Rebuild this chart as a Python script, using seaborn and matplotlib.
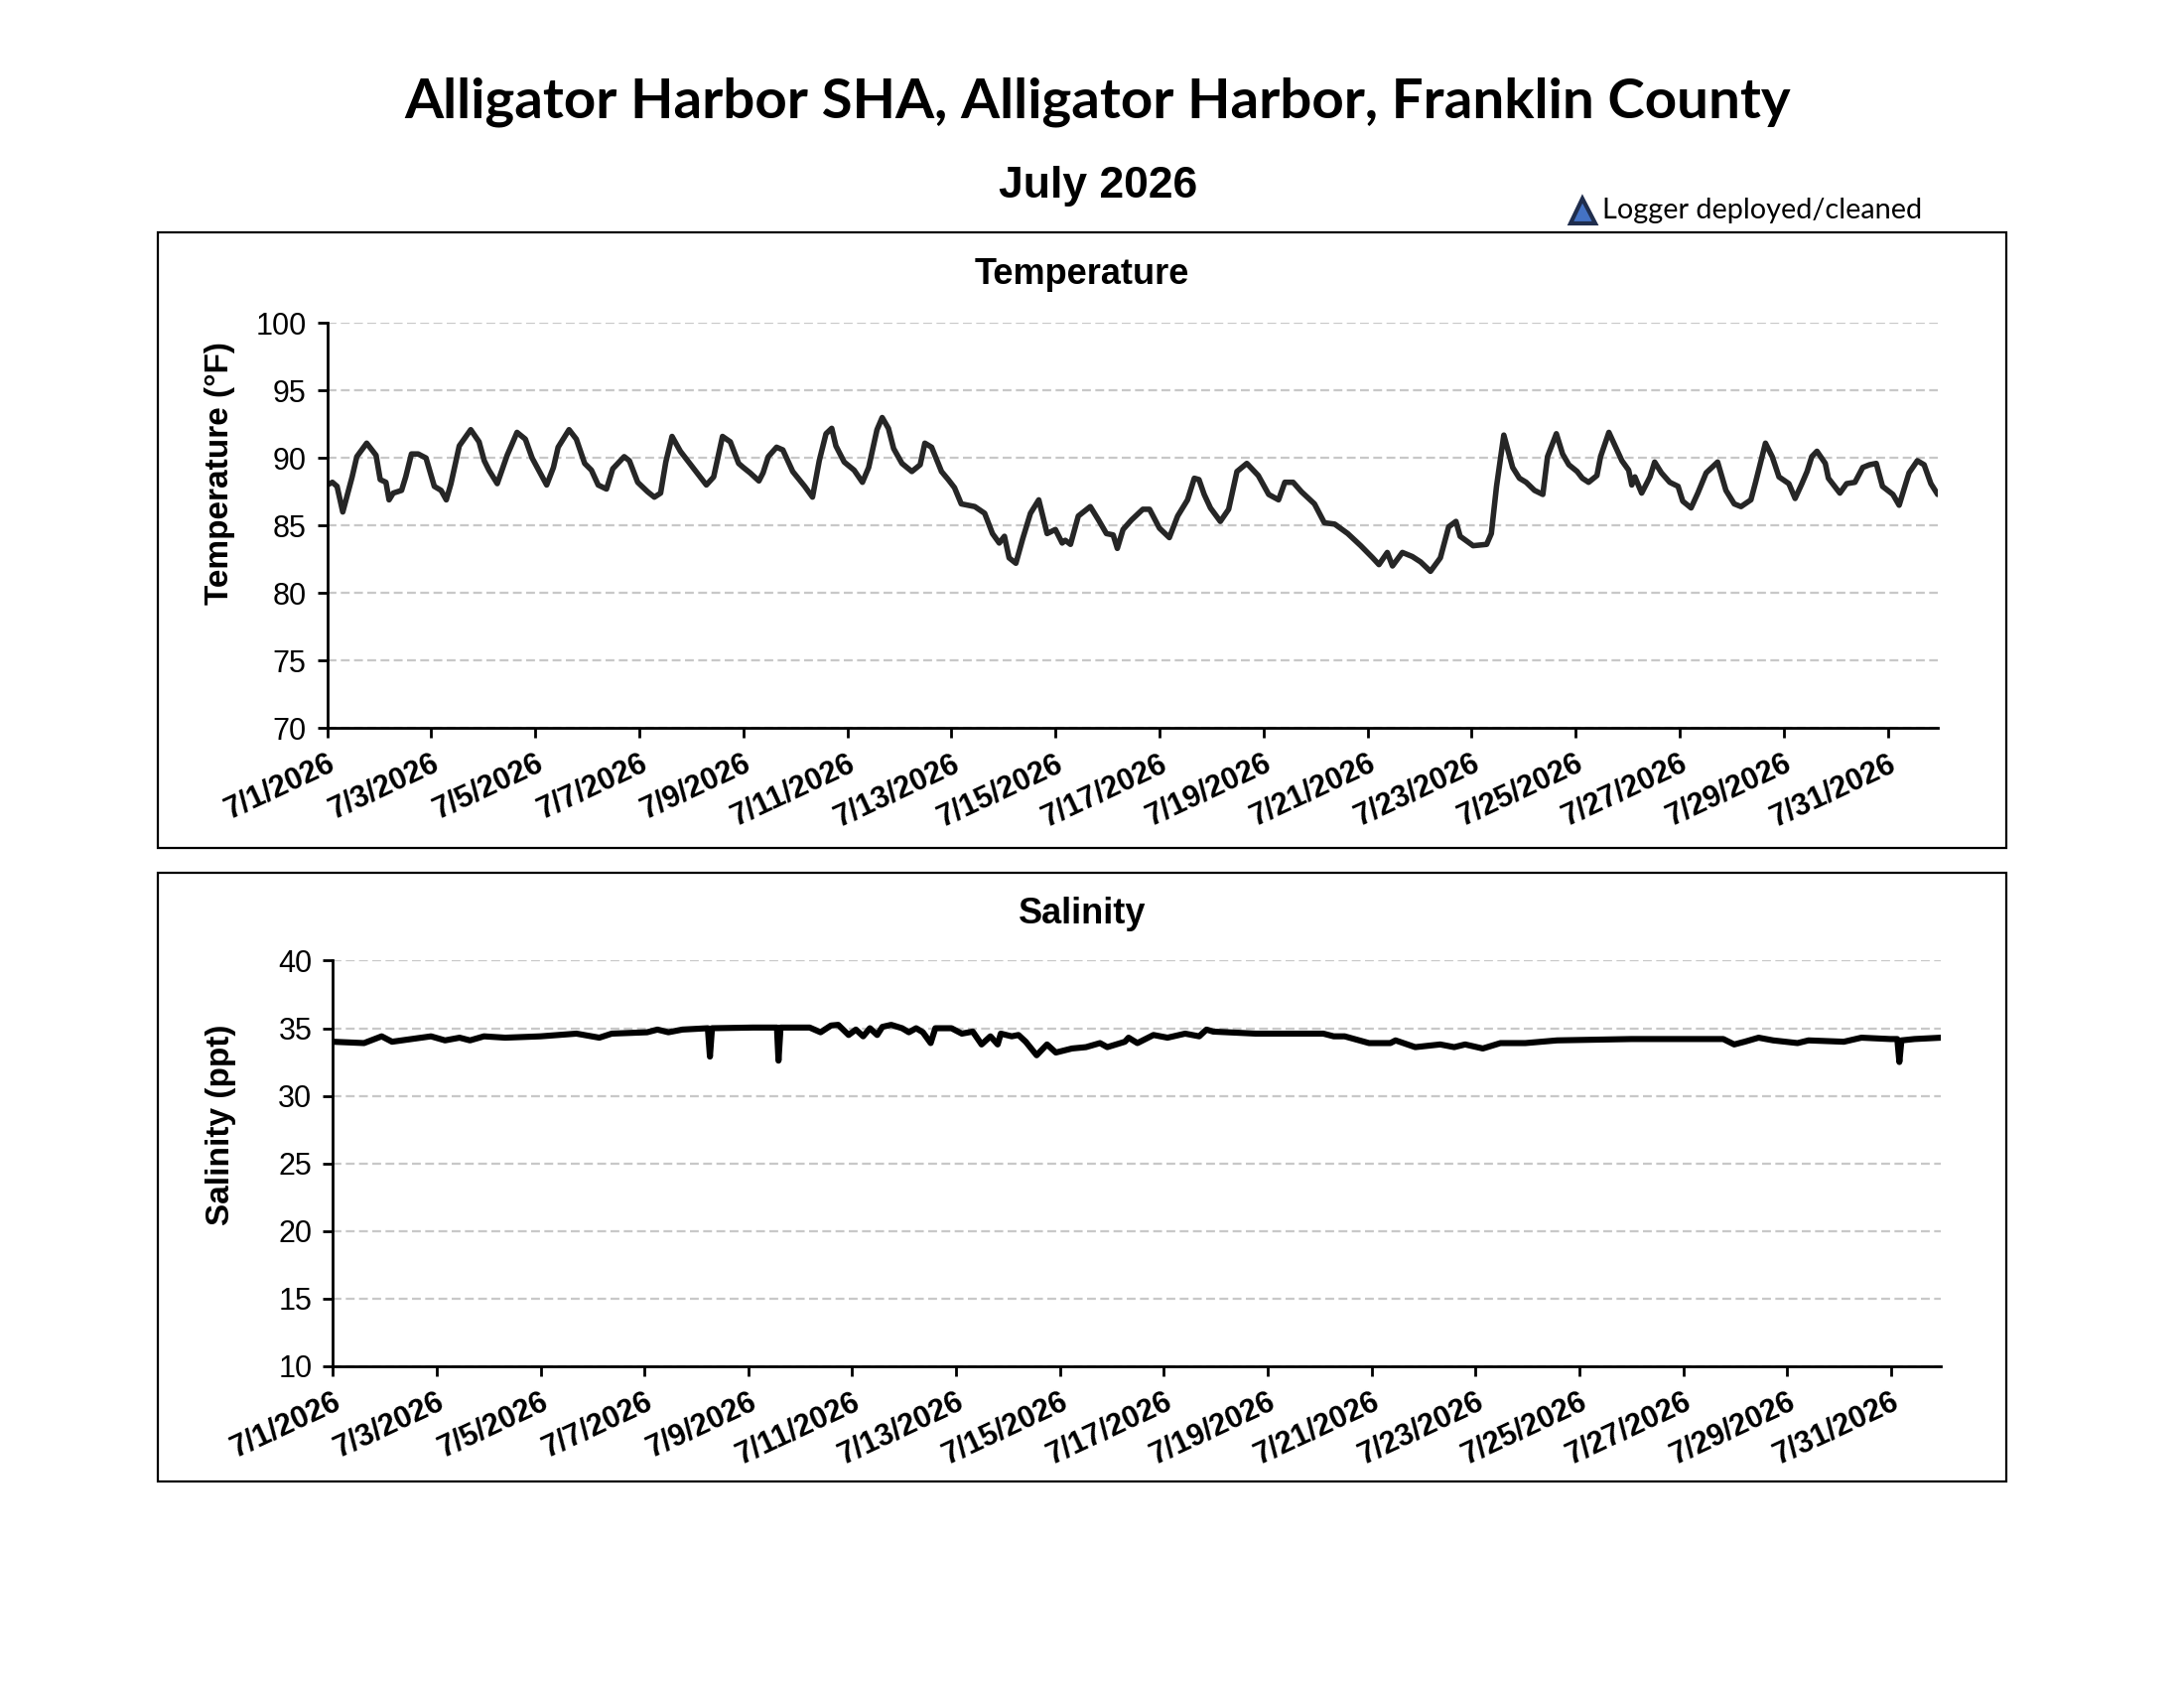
import pandas as pd
import matplotlib
matplotlib.use("Agg")
import matplotlib.pyplot as plt
from matplotlib.patches import Rectangle
from matplotlib.lines import Line2D
import seaborn as sns

sns.set_theme(style="white")
plt.rcParams['font.family'] = ['Liberation Sans', 'DejaVu Sans']
plt.rcParams['text.color'] = 'black'
plt.rcParams['axes.labelcolor'] = 'black'

start = pd.Timestamp("2026-07-01")
end_day = 30.96

# Temperature (°F), day offset from 7/1 00:00
temp_days = [0.00, 0.10, 0.19, 0.30, 0.48, 0.57, 0.76, 0.94, 1.02, 1.13, 1.19, 1.27, 1.43, 1.51, 1.62,
             1.75, 1.90, 2.06, 2.19, 2.29, 2.38, 2.54, 2.76, 2.92, 3.02, 3.11, 3.27, 3.46, 3.65, 3.81,
             3.94, 4.22, 4.35, 4.44, 4.65, 4.79, 4.95, 5.08, 5.21, 5.37, 5.49, 5.71, 5.81, 5.97, 6.16,
             6.29, 6.41, 6.51, 6.63, 6.79, 7.11, 7.29, 7.43, 7.60, 7.75, 7.91, 8.00, 8.13, 8.30, 8.38,
             8.48, 8.64, 8.76, 8.95, 9.18, 9.33, 9.46, 9.59, 9.70, 9.78, 9.94, 10.13, 10.29, 10.41,
             10.57, 10.67, 10.79, 10.89, 11.05, 11.24, 11.40, 11.49, 11.62, 11.81, 11.94, 12.06, 12.19,
             12.32, 12.45, 12.64, 12.79, 12.92, 13.02, 13.11, 13.24, 13.37, 13.52, 13.68, 13.84, 14.00,
             14.13, 14.19, 14.29, 14.44, 14.67, 14.83, 14.98, 15.11, 15.19, 15.30, 15.46, 15.68, 15.81,
             16.00, 16.19, 16.35, 16.54, 16.67, 16.76, 16.86, 16.98, 17.17, 17.33, 17.49, 17.68, 17.90,
             18.10, 18.29, 18.41, 18.57, 18.73, 18.98, 19.17, 19.37, 19.62, 19.87, 20.10, 20.22, 20.38,
             20.48, 20.67, 20.86, 21.02, 21.21, 21.40, 21.56, 21.70, 21.78, 22.03, 22.29, 22.38, 22.48,
             22.62, 22.79, 22.92, 23.05, 23.21, 23.37, 23.46, 23.63, 23.75, 23.87, 24.03, 24.13, 24.25,
             24.41, 24.48, 24.64, 24.76, 24.89, 25.02, 25.08, 25.14, 25.27, 25.43, 25.52, 25.65, 25.81,
             25.97, 26.06, 26.22, 26.35, 26.51, 26.73, 26.89, 27.05, 27.18, 27.37, 27.46, 27.65, 27.78,
             27.91, 28.10, 28.22, 28.35, 28.45, 28.54, 28.64, 28.80, 28.86, 29.08, 29.21, 29.37, 29.52,
             29.65, 29.78, 29.90, 30.10, 30.22, 30.41, 30.57, 30.70, 30.83, 30.96]
temp_vals = [88.0, 88.2, 87.9, 86.0, 88.6, 90.1, 91.1, 90.2, 88.4, 88.2, 86.9, 87.4, 87.6, 88.6, 90.3,
             90.3, 90.0, 87.9, 87.6, 86.9, 88.1, 90.9, 92.1, 91.2, 89.8, 89.1, 88.1, 90.2, 91.9, 91.4,
             90.0, 88.0, 89.3, 90.8, 92.1, 91.4, 89.6, 89.1, 88.0, 87.7, 89.2, 90.1, 89.8, 88.2, 87.5,
             87.1, 87.4, 89.7, 91.6, 90.5, 88.9, 88.0, 88.6, 91.6, 91.2, 89.6, 89.3, 88.9, 88.3, 88.9,
             90.1, 90.8, 90.6, 89.0, 87.9, 87.1, 89.8, 91.8, 92.2, 90.9, 89.7, 89.1, 88.2, 89.3,
             92.1, 93.0, 92.2, 90.7, 89.6, 89.0, 89.5, 91.1, 90.8, 89.0, 88.4, 87.8, 86.6,
             86.5, 86.4, 85.9, 84.4, 83.7, 84.2, 82.6, 82.2, 84.0, 85.9, 86.9, 84.4, 84.7,
             83.7, 83.9, 83.6, 85.7, 86.4, 85.4, 84.4, 84.3, 83.3, 84.7, 85.4, 86.2, 86.2,
             84.8, 84.1, 85.7, 86.9, 88.5, 88.4, 87.3, 86.3, 85.3, 86.2, 89.0, 89.6, 88.7,
             87.3, 86.9, 88.2, 88.2, 87.5, 86.6, 85.2, 85.1, 84.4, 83.5, 82.6, 82.1, 83.0,
             82.0, 83.0, 82.7, 82.3, 81.6, 82.6, 84.9, 85.3, 84.2, 83.5, 83.6, 84.4, 87.9,
             91.7, 89.3, 88.5, 88.2, 87.6, 87.3, 90.1, 91.8, 90.3, 89.5, 89.0, 88.5, 88.2,
             88.7, 90.1, 91.9, 90.9, 89.8, 89.1, 88.0, 88.6, 87.4, 88.6, 89.7, 88.9, 88.2,
             87.9, 86.8, 86.3, 87.4, 88.9, 89.7, 87.6, 86.6, 86.4, 86.9, 88.2, 91.1, 90.1,
             88.6, 88.1, 87.0, 88.1, 89.0, 90.1, 90.5, 89.6, 88.5, 87.4, 88.1, 88.2, 89.3,
             89.5, 89.6, 87.9, 87.3, 86.5, 88.9, 89.8, 89.5, 88.1, 87.3]

# Salinity (ppt)
sal_days = [0.00, 0.60, 0.94, 1.14, 1.89, 2.16, 2.44, 2.64, 2.91, 3.32, 4.00, 4.69, 5.13, 5.37, 6.05,
            6.25, 6.46, 6.73, 7.22, 7.26, 7.30, 8.09, 8.55, 8.58, 8.62, 9.18, 9.39, 9.59, 9.73, 9.93,
            10.07, 10.21, 10.34, 10.48, 10.58, 10.75, 10.96, 11.09, 11.23, 11.36, 11.51, 11.60, 11.91,
            12.11, 12.32, 12.49, 12.66, 12.80, 12.86, 13.07, 13.20, 13.34, 13.55, 13.75, 13.92, 14.23,
            14.50, 14.77, 14.91, 15.25, 15.32, 15.49, 15.80, 16.07, 16.41, 16.68, 16.82, 16.95, 17.77,
            19.07, 19.27, 19.48, 19.95, 20.36, 20.46, 20.84, 21.32, 21.59, 21.80, 22.14, 22.48, 22.96,
            23.57, 25.00, 26.77, 26.98, 27.18, 27.45, 27.73, 28.20, 28.41, 29.09, 29.43, 29.98, 30.12,
            30.16, 30.20, 30.45, 30.96]
sal_vals = [34.0, 33.9, 34.4, 34.0, 34.4, 34.1, 34.3, 34.1, 34.4, 34.3, 34.4, 34.6, 34.3, 34.6, 34.7,
            34.9, 34.7, 34.9, 35.0, 32.9, 35.0, 35.05, 35.05, 32.6, 35.05, 35.05, 34.7, 35.2, 35.25, 34.5,
            34.9, 34.4, 35.0, 34.5, 35.1, 35.25, 35.0, 34.7, 35.0, 34.7, 33.9, 35.0, 35.0,
            34.6, 34.75, 33.8, 34.4, 33.8, 34.6, 34.4, 34.5, 34.0, 33.0, 33.8, 33.2, 33.5,
            33.6, 33.9, 33.6, 34.0, 34.3, 33.9, 34.5, 34.3, 34.6, 34.4, 34.9, 34.75, 34.6,
            34.6, 34.4, 34.4, 33.9, 33.9, 34.1, 33.6, 33.8, 33.6, 33.8, 33.5, 33.9, 33.9,
            34.1, 34.2, 34.2, 33.8, 34.0, 34.3, 34.1, 33.9, 34.1, 34.0, 34.3, 34.2, 34.2,
            32.5, 34.1, 34.2, 34.3]

tick_dates = pd.date_range("2026-07-01", "2026-07-31", freq="2D")

temp_df = pd.DataFrame({"time": start + pd.to_timedelta(temp_days, unit="D"), "temp": temp_vals})
sal_df = pd.DataFrame({"time": start + pd.to_timedelta(sal_days, unit="D"), "sal": sal_vals})

fig = plt.figure(figsize=(11, 8.5), dpi=200)
ax1 = fig.add_axes([0.1498, 0.5688, 0.7374, 0.2398])
ax2 = fig.add_axes([0.1524, 0.1907, 0.7363, 0.2402])

sns.lineplot(data=temp_df, x="time", y="temp", ax=ax1, color="#262626", linewidth=2.0)
sns.lineplot(data=sal_df, x="time", y="sal", ax=ax2, color="#000000", linewidth=2.2)


def style_axes(ax, ylo, yhi, ylabel, labx, laby):
    ax.set_xlim(start, start + pd.Timedelta(days=end_day))
    ax.set_ylim(ylo, yhi)
    ax.set_yticks(range(ylo, yhi + 1, 5))
    ax.set_xticks(tick_dates)
    ax.set_xticklabels([f"{d.month}/{d.day}/{d.year}" for d in tick_dates],
                       rotation=25, ha="right", rotation_mode="anchor", fontweight="bold")
    ax.tick_params(axis="both", direction="out", length=3.5, width=1, color="black",
                   labelsize=11, labelcolor="black", bottom=True, left=True, pad=4)
    for s in ["top", "right"]:
        ax.spines[s].set_visible(False)
    for s in ["left", "bottom"]:
        ax.spines[s].set_color("black")
        ax.spines[s].set_linewidth(1.0)
    ax.yaxis.grid(True, color="#C8C8C8", linestyle=(0, (4, 2)), linewidth=0.8)
    ax.xaxis.grid(False)
    ax.set_xlabel("")
    ax.set_ylabel(ylabel, fontsize=12, fontweight="bold")
    ax.yaxis.set_label_coords(labx, laby)


style_axes(ax1, 70, 100, "Temperature (°F)", -0.057, 0.629)
style_axes(ax2, 10, 40, "Salinity (ppt)", -0.0598, 0.594)

# panel frames
for y0, h in [(0.4979, 0.3646), (0.1226, 0.3604)]:
    fig.patches.append(Rectangle((0.0724, y0), 0.8463, h, transform=fig.transFigure,
                                 fill=False, edgecolor="black", linewidth=0.8))

fig.text(0.5026, 0.9395, "Alligator Harbor SHA, Alligator Harbor, Franklin County",
         ha="center", va="center", fontsize=20.3, fontweight="bold", family=["Lato", "DejaVu Sans"])
fig.text(0.503, 0.8898, "July 2026", ha="center", va="center", fontsize=16, fontweight="bold")
fig.text(0.4955, 0.8376, "Temperature", ha="center", va="center", fontsize=13, fontweight="bold")
fig.text(0.4955, 0.4584, "Salinity", ha="center", va="center", fontsize=13, fontweight="bold")

fig.add_artist(Line2D([0.7245], [0.8752], marker="^", markersize=9, markerfacecolor="#4472C4",
                      markeredgecolor="#1F2D4D", markeredgewidth=1.5, linestyle="none",
                      transform=fig.transFigure))
fig.text(0.7335, 0.8755, "Logger deployed/cleaned", ha="left", va="center", fontsize=10.4,
         family=["Lato", "DejaVu Sans"])

fig.savefig("out.png", dpi=200, facecolor="white")
